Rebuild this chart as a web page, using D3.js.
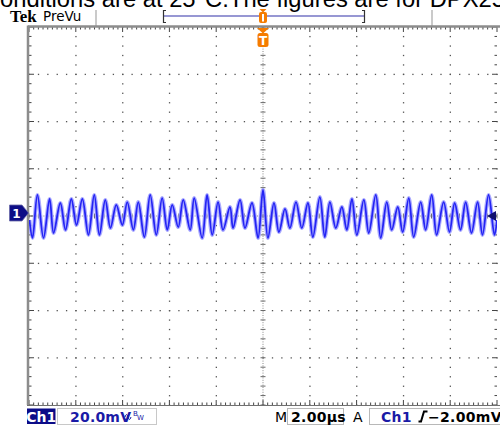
<!DOCTYPE html>
<html><head><meta charset="utf-8">
<script src="https://cdn.jsdelivr.net/npm/d3@7"></script>
<style>html,body{margin:0;padding:0;background:#fff;overflow:hidden}svg{display:block}</style>
</head><body>
<script>
const timeUs = [-9.98,-9.85,-9.64,-9.38,-9.12,-8.95,-8.66,-8.44,-8.19,-7.97,-7.72,-7.46,-7.21,-6.99,-6.74,-6.52,-6.27,-6.01,-5.80,-5.54,-5.33,-5.07,-4.82,-4.56,-4.31,-4.09,-3.88,-3.62,-3.41,-3.11,-2.94,-2.60,-2.39,-2.17,-1.92,-1.71,-1.41,-1.28,-0.98,-0.77,-0.47,-0.21,0.00,0.21,0.47,0.68,0.94,1.15,1.41,1.66,1.92,2.13,2.43,2.64,2.86,3.11,3.37,3.58,3.80,4.01,4.31,4.52,4.82,5.03,5.29,5.50,5.76,5.97,6.23,6.44,6.74,6.95,7.21,7.42,7.72,7.97,8.19,8.44,8.66,8.91,9.17,9.38,9.64,9.89,10.0];
const voltageMv = [-1.7,-9.3,8.9,-9.3,7.2,-7.2,5.5,-5.9,7.2,-3.8,7.2,-8.0,8.9,-8.0,6.8,-5.1,4.7,-3.8,5.9,-5.9,5.9,-8.9,8.9,-8.0,7.6,-5.9,4.7,-4.7,6.8,-5.9,7.6,-9.3,8.9,-8.0,5.9,-5.9,3.8,-5.1,6.8,-5.1,5.5,-9.3,11.0,-9.3,5.5,-6.8,3.0,-5.1,5.9,-5.1,5.5,-8.9,8.0,-8.9,5.9,-5.1,3.8,-5.9,7.2,-8.0,6.8,-7.2,8.9,-9.3,5.9,-5.9,3.8,-6.8,7.6,-8.9,5.9,-5.9,8.9,-8.0,5.9,-6.8,5.5,-5.9,5.9,-7.2,5.9,-8.0,8.9,-8.0,-1.7];
const timeDomainUs = [-10, 10];
const voltDomainMv = [-80, 80];
const majorTimeUs = [-10,-8,-6,-4,-2,0,2,4,6,8,10];
const majorVoltMv = [-80,-60,-40,-20,0,20,40,60,80];
const headerText = "onditions are at 25°C.The figures are for DPX25";
const brandText = "Tek";
const modeText = "PreVu";
const channelLabel = "Ch1";
const voltScaleLabel = "20.0mV";
const timebaseLabel = "2.00µs";
const trigChannelLabel = "Ch1";
const trigLevelLabel = "\u22122.00mV";

const W = 500, H = 428;
const svg = d3.select("body").append("svg").attr("width", W).attr("height", H);

const x = d3.scaleLinear().domain(timeDomainUs).range([29, 497]);
const y = d3.scaleLinear().domain(voltDomainMv).range([405, 27]);

// header document text (cut off at top)
svg.append("text").attr("x", 0).attr("y", 7)
  .attr("font-family", "Liberation Sans, Arial, sans-serif").attr("font-size", 23)
  .attr("textLength", 505).attr("lengthAdjust", "spacingAndGlyphs")
  .attr("fill", "#000").text(headerText);

// Tek / PreVu
svg.append("text").attr("x", 10).attr("y", 22).attr("font-family", "Liberation Serif, Times New Roman, serif")
  .attr("font-weight", "bold").attr("font-size", 17).attr("fill", "#000").text(brandText);
svg.append("text").attr("x", 43).attr("y", 20.5).attr("font-family", "DejaVu Sans, sans-serif")
  .attr("font-size", 13.5).attr("fill", "#000").text(modeText);

// separators
[96, 432].forEach(sx => svg.append("line").attr("x1", sx).attr("x2", sx).attr("y1", 10).attr("y2", 26)
  .attr("stroke", "#b8b8b8").attr("stroke-width", 1.5));

// record bar
svg.append("line").attr("x1", 164).attr("x2", 364).attr("y1", 16).attr("y2", 16)
  .attr("stroke", "#7474c4").attr("stroke-width", 1.6);
svg.append("path").attr("d", "M166,10.5 H163.5 V22.5 H166").attr("fill", "none").attr("stroke", "#333").attr("stroke-width", 1.2);
svg.append("path").attr("d", "M362,10.5 H364.5 V22.5 H362").attr("fill", "none").attr("stroke", "#333").attr("stroke-width", 1.2);

const orange = "#f57c00";
// small T in record bar
const cx = x(0);
svg.append("path").attr("d", `M${cx-3.5},9 H${cx+3.5} L${cx},12.5 Z`).attr("fill", orange);
svg.append("rect").attr("x", cx-4).attr("y", 12).attr("width", 8).attr("height", 11).attr("rx", 2).attr("fill", orange);
svg.append("rect").attr("x", cx-1).attr("y", 14).attr("width", 2).attr("height", 7.5).attr("fill", "#fff");

// plot frame
const plot = svg.append("g");
svg.append("clipPath").attr("id", "pc").append("rect")
  .attr("x", x(-10)).attr("y", y(80)).attr("width", x(10) - x(-10)).attr("height", y(-80) - y(80));

// grid dots
const minorT = d3.range(-10, 10.001, 0.4);
const minorV = d3.range(-80, 80.001, 4);
const gridCol = "#555";
majorTimeUs.filter(t => t !== 0 && Math.abs(t) !== 10).forEach(t => {
  minorV.forEach(v => plot.append("rect").attr("x", x(t) - 0.5).attr("y", y(v) - 0.5).attr("width", 1.3).attr("height", 1.3).attr("fill", gridCol));
});
majorVoltMv.filter(v => v !== 0 && Math.abs(v) !== 80).forEach(v => {
  minorT.forEach(t => plot.append("rect").attr("x", x(t) - 0.5).attr("y", y(v) - 0.5).attr("width", 1.3).attr("height", 1.3).attr("fill", gridCol));
});
// center crosshair
plot.append("line").attr("x1", x(0)).attr("x2", x(0)).attr("y1", y(80)).attr("y2", y(-80))
  .attr("stroke", "#8a8a8a").attr("stroke-width", 1).attr("stroke-dasharray", "1,1.4");
plot.append("line").attr("x1", x(-10)).attr("x2", x(10)).attr("y1", y(0)).attr("y2", y(0))
  .attr("stroke", "#8a8a8a").attr("stroke-width", 1).attr("stroke-dasharray", "1,1.4");
minorV.forEach(v => plot.append("line").attr("x1", x(0) - 2.5).attr("x2", x(0) + 2.5).attr("y1", y(v)).attr("y2", y(v)).attr("stroke", "#6a6a6a").attr("stroke-width", 1));
minorT.forEach(t => plot.append("line").attr("x1", x(t)).attr("x2", x(t)).attr("y1", y(0) - 2.5).attr("y2", y(0) + 2.5).attr("stroke", "#6a6a6a").attr("stroke-width", 1));

// border rulers
const rulerT = d3.range(-10, 10.001, 0.2);
const isMajor = (val, step) => Math.abs(val / step - Math.round(val / step)) < 1e-6;
rulerT.forEach(t => {
  const len = isMajor(t, 2) ? 5 : 2.5;
  plot.append("line").attr("x1", x(t)).attr("x2", x(t)).attr("y1", y(80)).attr("y2", y(80) + len).attr("stroke", "#444").attr("stroke-width", 1);
  plot.append("line").attr("x1", x(t)).attr("x2", x(t)).attr("y1", y(-80)).attr("y2", y(-80) - len).attr("stroke", "#444").attr("stroke-width", 1);
});
minorV.forEach(v => {
  const len = isMajor(v, 20) ? 5 : 2.5;
  plot.append("line").attr("x1", x(-10)).attr("x2", x(-10) + len).attr("y1", y(v)).attr("y2", y(v)).attr("stroke", "#444").attr("stroke-width", 1);
  plot.append("line").attr("x1", x(10)).attr("x2", x(10) - len).attr("y1", y(v)).attr("y2", y(v)).attr("stroke", "#444").attr("stroke-width", 1);
});
// frame lines
svg.append("line").attr("x1", x(-10) - 1).attr("x2", 500).attr("y1", y(80) - 0.5).attr("y2", y(80) - 0.5).attr("stroke", "#8c8c8c").attr("stroke-width", 2.5);
svg.append("line").attr("x1", x(-10) - 1).attr("x2", x(-10) - 1).attr("y1", y(80) - 1.5).attr("y2", y(-80)).attr("stroke", "#8c8c8c").attr("stroke-width", 2.5);
svg.append("line").attr("x1", x(-10) - 2).attr("x2", 500).attr("y1", y(-80) + 0.5).attr("y2", y(-80) + 0.5).attr("stroke", "#707070").attr("stroke-width", 1);

// trace
const pts = timeUs.map((t, i) => [t, voltageMv[i]]);
const line = d3.line().x(d => x(d[0])).y(d => y(d[1])).curve(d3.curveCatmullRom.alpha(0.5));
const tr = svg.append("g").attr("clip-path", "url(#pc)");
tr.append("path").attr("d", line(pts)).attr("fill", "none").attr("stroke", "#9c9cff").attr("stroke-width", 4).attr("stroke-opacity", 0.85).attr("stroke-linejoin", "round");
tr.append("path").attr("d", line(pts)).attr("fill", "none").attr("stroke", "#2424f4").attr("stroke-width", 1.8).attr("stroke-linejoin", "round");

// trigger marker under top border
svg.append("path").attr("d", `M${cx-6},28 H${cx+6} L${cx},33.5 Z`).attr("fill", orange);
svg.append("rect").attr("x", cx-5.5).attr("y", 33).attr("width", 11).attr("height", 14).attr("rx", 2.5).attr("fill", orange);
svg.append("text").attr("x", cx).attr("y", 45).attr("text-anchor", "middle").attr("font-family", "DejaVu Sans, sans-serif")
  .attr("font-weight", "bold").attr("font-size", 12).attr("fill", "#fff").text("T");

// ground marker "1"
const gy = y(0) - 3;
svg.append("path").attr("d", `M9.5,${gy-8} H22 L28.5,${gy} L22,${gy+8} H9.5 Z`).attr("fill", "#0e0e86").attr("stroke", "#6a6aa8").attr("stroke-width", 0.8);
svg.append("text").attr("x", 16.5).attr("y", gy + 5).attr("text-anchor", "middle").attr("font-family", "DejaVu Sans, sans-serif")
  .attr("font-weight", "bold").attr("font-size", 12).attr("fill", "#fff").text("1");
// trigger level marker on right
svg.append("path").attr("d", `M487,${y(0)} L496,${y(0)-5} L496,${y(0)+5} Z`).attr("fill", "#101070");

// status bar
const fs = "DejaVu Sans, Verdana, sans-serif";
const blueTxt = "#1a1aa6";
svg.append("rect").attr("x", 27).attr("y", 408.5).attr("width", 28.5).attr("height", 15.5).attr("fill", "#0c0c88");
svg.append("text").attr("x", 41.2).attr("y", 421.5).attr("text-anchor", "middle").attr("font-family", fs).attr("font-weight", "bold")
  .attr("font-size", 14).attr("fill", "#fff").text(channelLabel);
svg.append("rect").attr("x", 57.5).attr("y", 408.5).attr("width", 99).attr("height", 16).attr("fill", "none").attr("stroke", "#c8c8c8");
svg.append("text").attr("x", 70).attr("y", 421.5).attr("font-family", fs).attr("font-size", 14).attr("font-weight", "bold")
  .attr("fill", blueTxt).attr("letter-spacing", 0.2).text(voltScaleLabel);
svg.append("path").attr("d", "M125,417 q1.5,-5 3,0 t3,0").attr("fill", "none").attr("stroke", blueTxt).attr("stroke-width", 1);
svg.append("text").attr("x", 133).attr("y", 416).attr("font-family", fs).attr("font-size", 7).attr("fill", blueTxt).text("B");
svg.append("text").attr("x", 137).attr("y", 420).attr("font-family", fs).attr("font-size", 7).attr("fill", blueTxt).text("W");

svg.append("text").attr("x", 275).attr("y", 421.5).attr("font-family", fs).attr("font-size", 14).attr("fill", "#000").text("M");
svg.append("rect").attr("x", 287.5).attr("y", 408.5).attr("width", 56).attr("height", 16).attr("fill", "none").attr("stroke", "#b8b8b8");
svg.append("text").attr("x", 291).attr("y", 421.5).attr("font-family", fs).attr("font-size", 14).attr("font-weight", "bold")
  .attr("fill", "#000").attr("letter-spacing", 0.3).text(timebaseLabel);
svg.append("text").attr("x", 353).attr("y", 421.5).attr("font-family", fs).attr("font-size", 14).attr("fill", "#000").text("A");
svg.append("rect").attr("x", 369.5).attr("y", 408.5).attr("width", 140).attr("height", 16).attr("fill", "none").attr("stroke", "#b8b8b8");
svg.append("text").attr("x", 381).attr("y", 421.5).attr("font-family", fs).attr("font-size", 14).attr("font-weight", "bold")
  .attr("fill", blueTxt).attr("letter-spacing", 0.3).text(trigChannelLabel);
svg.append("path").attr("d", "M418.5,421.5 H421 L424,411.5 H427.5").attr("fill", "none").attr("stroke", "#000").attr("stroke-width", 2);
svg.append("text").attr("x", 428).attr("y", 421.5).attr("font-family", fs).attr("font-size", 14).attr("font-weight", "bold")
  .attr("fill", "#000").attr("letter-spacing", 0.3).text(trigLevelLabel);
</script>
</body></html>
